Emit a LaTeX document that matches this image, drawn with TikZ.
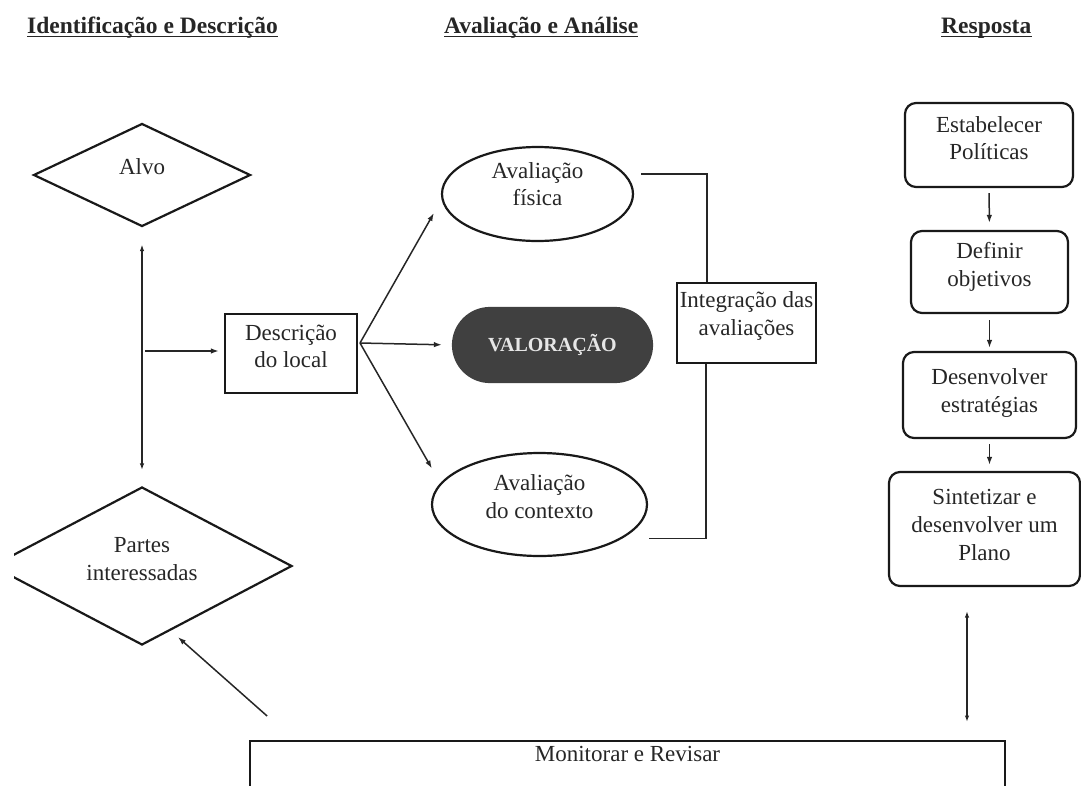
\documentclass[tikz,border=0pt]{standalone}
\usepackage{fontspec}
\setmainfont{Liberation Serif}
\usetikzlibrary{arrows.meta,shapes.geometric,shapes.misc,calc}
\definecolor{txtc}{HTML}{262626}
\definecolor{valfill}{HTML}{404040}
\definecolor{valtext}{HTML}{E6E6E6}
\begin{document}
\begin{tikzpicture}[x=1pt,y=-1pt,
  every node/.style={font=\fontsize{23}{27.6}\selectfont, text=txtc},
  shp/.style={draw=black!90, line width=2.2pt, inner sep=0pt},
  dia/.style={shp, diamond},
  box/.style={shp, rectangle},
  rbox/.style={shp, rectangle, rounded corners=11pt},
  ell/.style={shp, ellipse},
  lbl/.style={yshift=#1, align=center, inner sep=0pt},
  lbl/.default=7pt,
  conn/.style={line width=1.5pt, draw=black!85},
  arr/.style={conn, -{Latex[length=8pt,width=5.5pt]}},
  darr/.style={conn, {Latex[length=6.5pt,width=4.5pt]}-{Latex[length=6.5pt,width=4.5pt]}},
  title/.style={font=\fontsize{23.5}{28}\selectfont\bfseries, inner sep=0pt, anchor=base west},
  uline/.style={line width=1.6pt, draw=txtc}
]
\clip (0,0) rectangle (1081,785);

% titles
\node[title] (t1) at (27,33) {Identificação e Descrição};
\node[title] (t2) at (444,33) {Avaliação e Análise};
\node[title] (t3) at (941,33) {Resposta};
\draw[uline] ($(t1.base west)+(0,3.5)$) -- ($(t1.base east)+(0,3.5)$);
\draw[uline] ($(t2.base west)+(0,3.5)$) -- ($(t2.base east)+(0,3.5)$);
\draw[uline] ($(t3.base west)+(0,3.5)$) -- ($(t3.base east)+(0,3.5)$);

% left column
\node[dia, minimum width=217pt, minimum height=103pt, label={[lbl=8pt]center:Alvo}] (alvo) at (142,175) {};
\begin{scope}
\clip (14,0) rectangle (1081,785);
\node[dia, minimum width=300pt, minimum height=158pt, label={[lbl=7pt]center:Partes\\interessadas}] (partes) at (142,566) {};
\end{scope}
\node[box, minimum width=132pt, minimum height=79pt, label={[lbl]center:Descrição\\do local}] (descr) at (291,353.5) {};

% middle column
\node[ell, minimum width=191pt, minimum height=94pt, label={[lbl=10pt]center:Avaliação\\física}] (fisica) at (537.5,194) {};
\node[shp, rounded rectangle, fill=valfill, draw=valfill, minimum width=199pt, minimum height=74pt,
      font=\fontsize{20}{24}\selectfont\bfseries, text=valtext] (valor) at (552.5,345) {VALORAÇÃO};
\node[ell, minimum width=215pt, minimum height=103pt, label={[lbl=8pt]center:Avaliação\\do contexto}] (contexto) at (539.5,504.5) {};
\node[box, minimum width=139pt, minimum height=80pt, label={[lbl]center:Integração das\\avaliações}] (integ) at (746.5,323) {};

% right column
\node[rbox, minimum width=168pt, minimum height=84pt, label={[lbl]center:Estabelecer\\Políticas}] (est) at (989,145) {};
\node[rbox, minimum width=157pt, minimum height=82pt, label={[lbl=5pt]center:Definir\\objetivos}] (def) at (989.5,272) {};
\node[rbox, minimum width=173pt, minimum height=86pt, label={[lbl=2pt]center:Desenvolver\\estratégias}] (desenv) at (989.5,395) {};
\node[rbox, minimum width=191pt, minimum height=114pt, label={[lbl=4pt]center:Sintetizar e\\desenvolver um\\Plano}] (sint) at (984.5,529) {};

% bottom
\node[box, line width=1.8pt, minimum width=755pt, minimum height=100pt, anchor=north,
      label={[anchor=north, inner sep=0pt, yshift=-6pt]north:Monitorar e Revisar}] (monitor) at (627.5,740) {};

% connectors
\coordinate (junc) at (145,351);
\coordinate (dout) at (360,343);
\coordinate (sx) at ($(sint.south)+(-17.5,0)$);
\draw[darr, shorten <=17pt, shorten >=16pt] (alvo.south) -- (partes.north);
\draw[arr, shorten >=5pt] (junc) -- (junc -| descr.west);
\draw[arr] (dout) -- ($(fisica.west)+(-7,19)$);
\draw[arr, shorten >=10pt] (dout) -- (valor.west);
\draw[arr] (dout) -- ($(contexto.west)+(1,-36)$);
\draw[conn] ($(fisica.east)+(7,-20)$) -| ($(integ.north west)+(31,0)$);
\draw[conn] ($(integ.south west)+(30,0)$) |- ($(contexto.east)+(1,34)$);
\draw[arr, shorten <=5pt, shorten >=7pt] (est.south) -- (def.north);
\draw[arr, shorten <=6pt, shorten >=3pt] (def.south) -- (desenv.north);
\draw[arr, shorten <=5pt, shorten >=6pt] (desenv.south) -- (desenv.south |- sint.north);
\draw[darr, shorten <=24pt, shorten >=18pt] (sx) -- (sx |- monitor.north);
\draw[arr] ($(monitor.north west)+(18,-24)$) -- ($(partes.south)+(36,-9)$);
\end{tikzpicture}
\end{document}
